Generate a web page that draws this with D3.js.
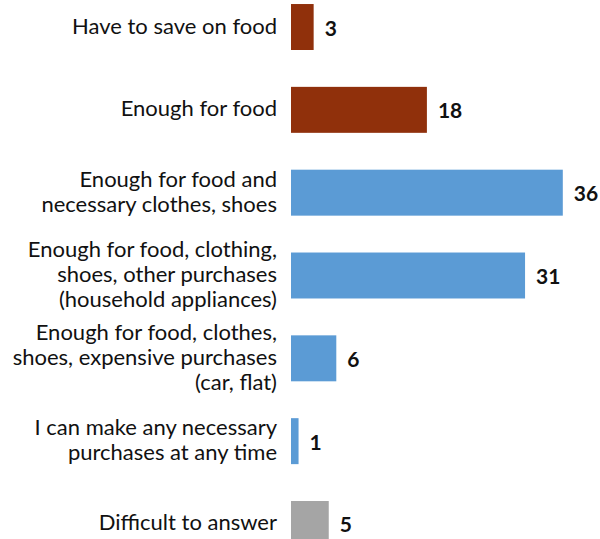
<!DOCTYPE html>
<html>
<head>
<meta charset="utf-8">
<script src="https://cdn.jsdelivr.net/npm/d3@7"></script>
<style>
  html, body { margin: 0; padding: 0; background: #fff; }
  svg { display: block; font-family: Lato, "Open Sans", sans-serif; }
  .cat-label { font-size: 22px; fill: #111; }
  .value-label { font-size: 21px; font-weight: bold; fill: #111; }
</style>
</head>
<body>
<svg id="chart"></svg>
<script>
// answer categories (line breaks as in the original)
const categories = [
    "Have to save on food",
    "Enough for food",
    "Enough for food and\nnecessary clothes, shoes",
    "Enough for food, clothing,\nshoes, other purchases\n(household appliances)",
    "Enough for food, clothes,\nshoes, expensive purchases\n(car, flat)",
    "I can make any necessary\npurchases at any time",
    "Difficult to answer"
];
// share of respondents, %
const values = [3, 18, 36, 31, 6, 1, 5];
// group of each answer (drives the bar colour)
const groups = ["low", "low", "mid", "mid", "mid", "mid", "none"];

const width = 600, height = 539;

const svg = d3.select("#chart")
    .attr("width", width)
    .attr("height", height);

const x = d3.scaleLinear()
    .domain([0, 36])
    .range([291, 562.8]);

const y = d3.scaleBand()
    .domain(categories)
    .range([-14.4, 565.4])
    .paddingInner(0.445)
    .paddingOuter(0.2225);

const color = d3.scaleOrdinal()
    .domain(["low", "mid", "none"])
    .range(["#90300B", "#5B9BD5", "#A5A5A5"]);

const rows = categories.map((c, i) => ({cat: c, value: values[i], group: groups[i]}));

// bars
svg.append("g")
    .selectAll("rect")
    .data(rows)
    .join("rect")
    .attr("x", x(0))
    .attr("y", d => y(d.cat))
    .attr("width", d => x(d.value) - x(0))
    .attr("height", y.bandwidth())
    .attr("fill", d => color(d.group));

// category labels, right aligned, vertically centred on the bar
const lineH = 25;
svg.append("g")
    .selectAll("text")
    .data(rows)
    .join("text")
    .attr("class", "cat-label")
    .attr("text-anchor", "end")
    .each(function(d) {
        const lines = d.cat.split("\n");
        const mid = y(d.cat) + y.bandwidth() / 2 + 6.5;
        const first = mid - (lines.length - 1) * lineH / 2;
        d3.select(this).selectAll("tspan")
            .data(lines)
            .join("tspan")
            .attr("x", 277)
            .attr("y", (l, j) => first + j * lineH)
            .text(l => l);
    });

// value labels
svg.append("g")
    .selectAll("text")
    .data(rows)
    .join("text")
    .attr("class", "value-label")
    .attr("x", d => x(d.value) + 11)
    .attr("y", d => y(d.cat) + y.bandwidth() / 2 + 8.5)
    .text(d => d.value);
</script>
</body>
</html>
